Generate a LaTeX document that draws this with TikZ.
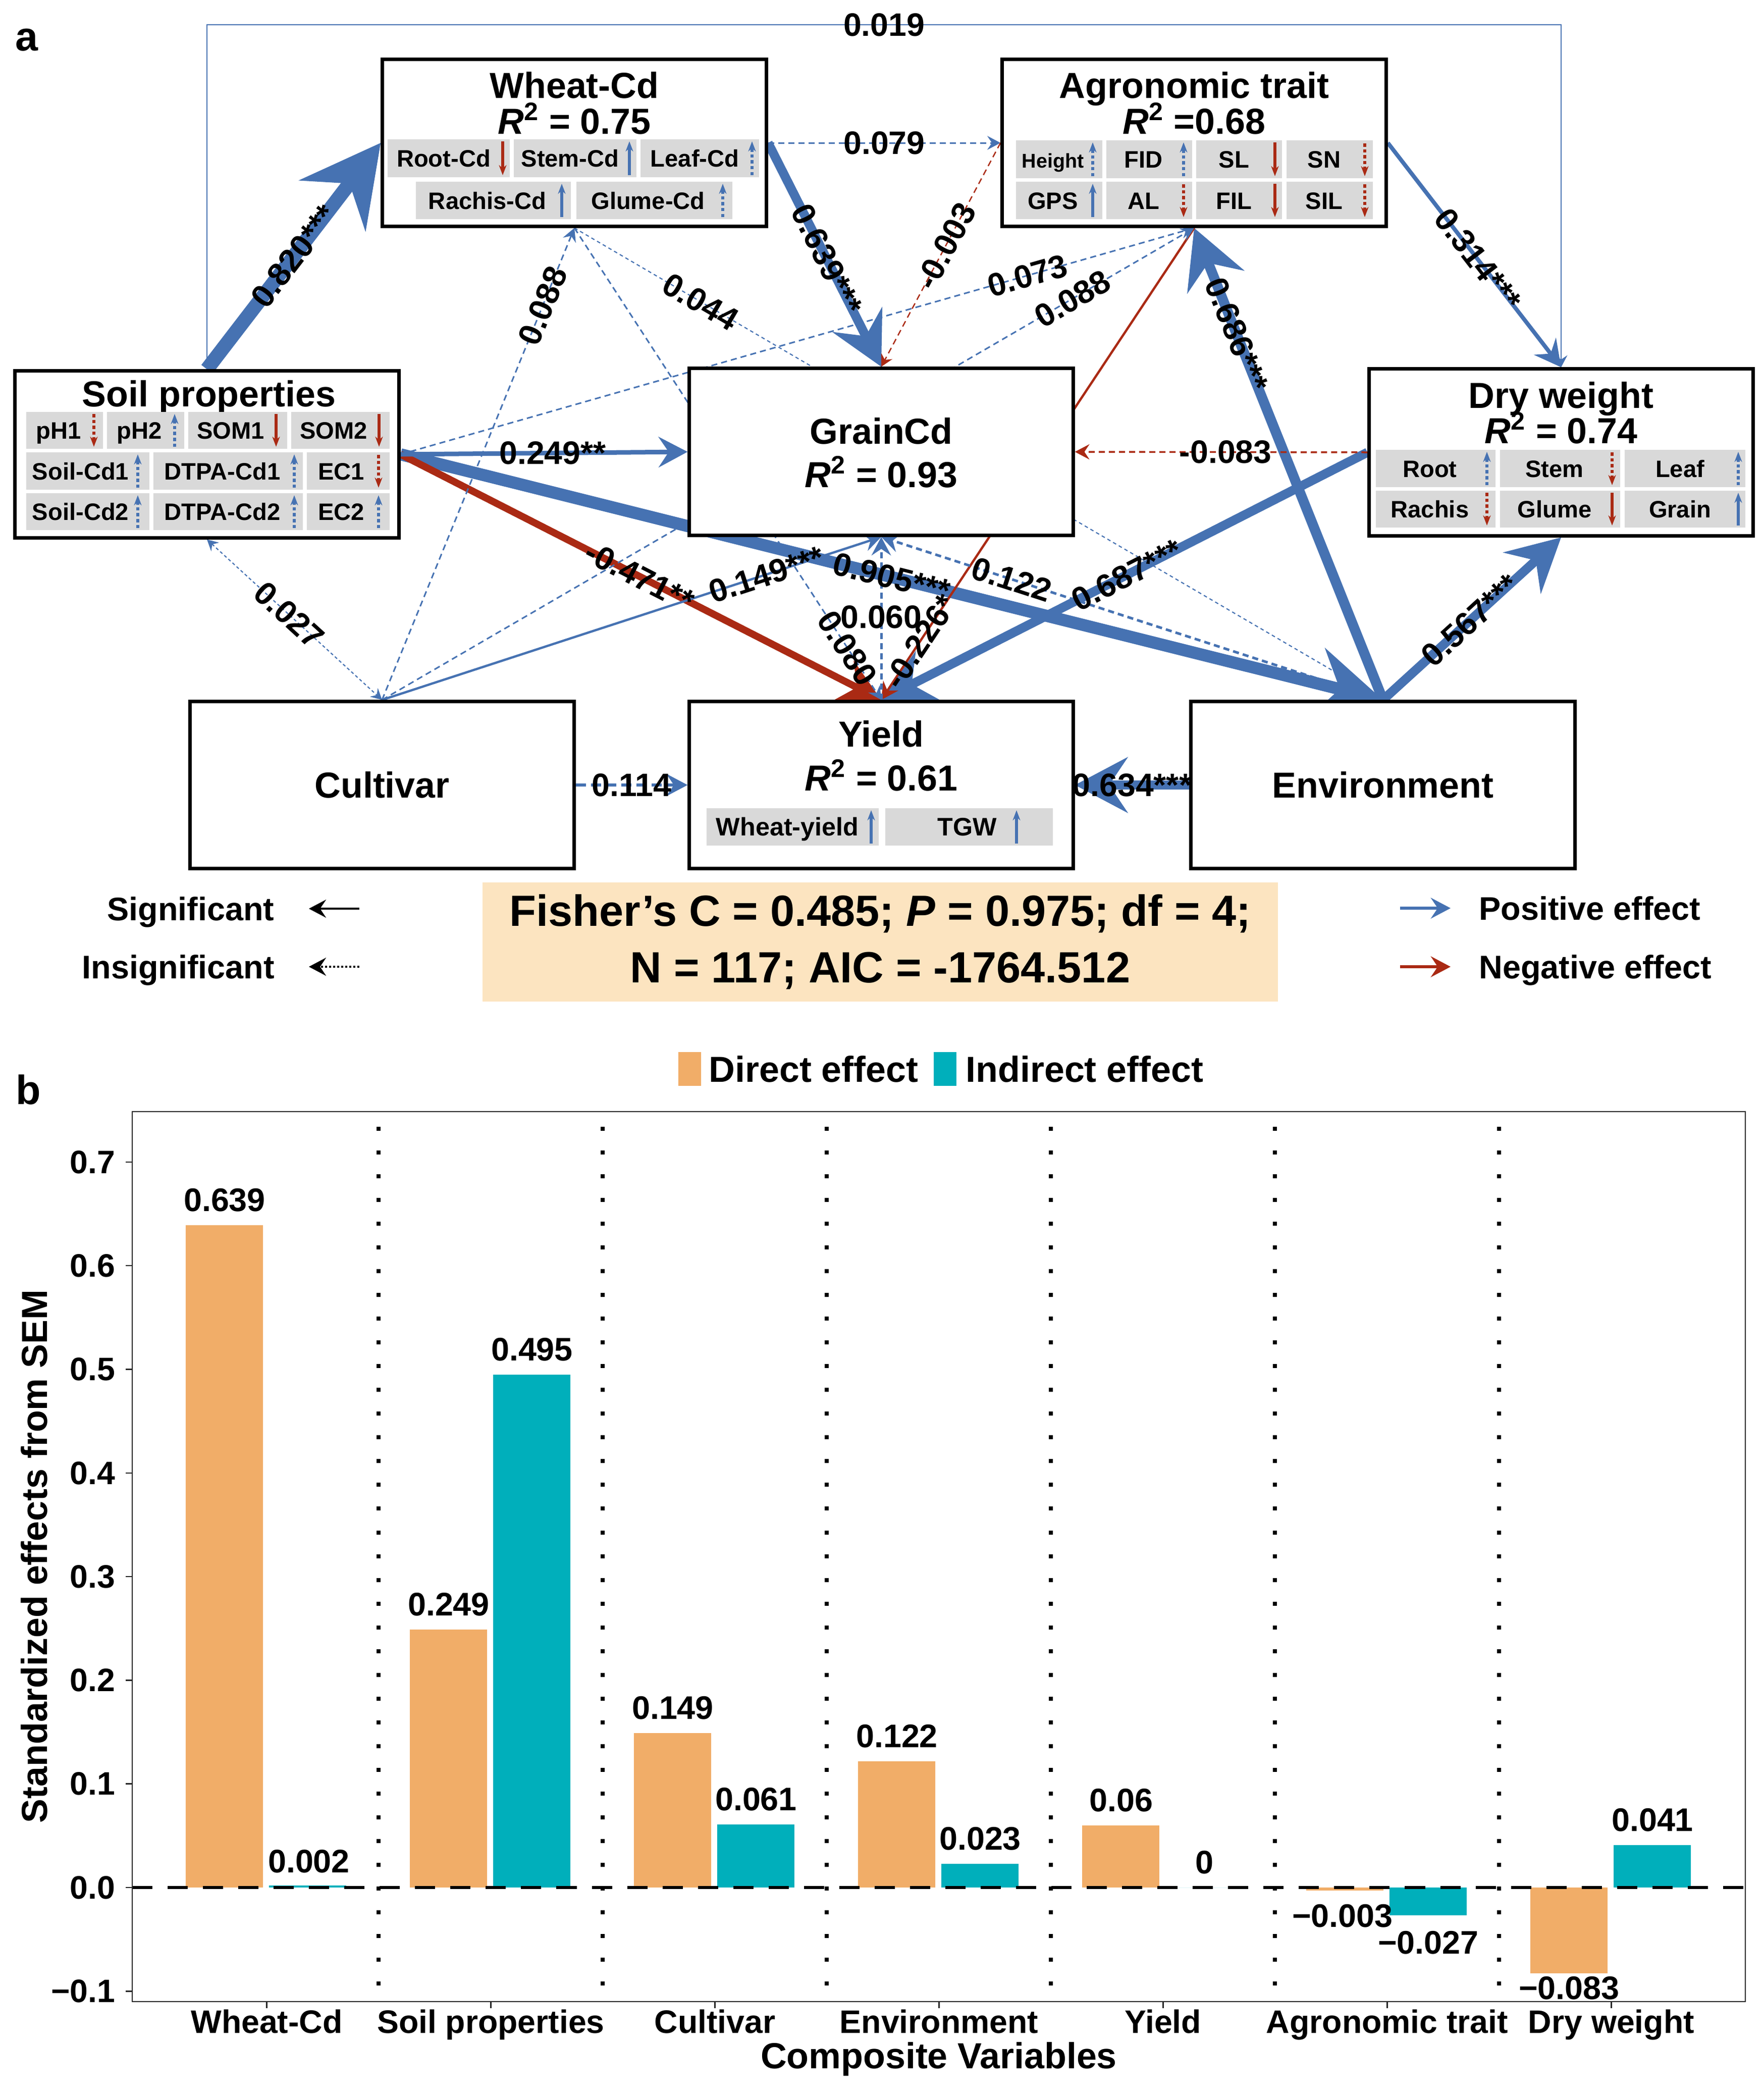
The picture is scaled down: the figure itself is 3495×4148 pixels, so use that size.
\documentclass[tikz,border=0pt]{standalone}
\usepackage{fontspec}
\setmainfont{Liberation Sans}
\usetikzlibrary{arrows.meta}
\pgfdeclarelayer{edges}
\pgfsetlayers{edges,main}

\definecolor{blueE}{RGB}{70,114,178}
\definecolor{redE}{RGB}{170,42,20}
\definecolor{cellgray}{RGB}{217,217,217}
\definecolor{peach}{RGB}{252,228,192}
\definecolor{orangeB}{RGB}{241,173,104}
\definecolor{tealB}{RGB}{0,175,187}

\newcommand{\Rsq}{\textit{R}\textsuperscript{2}}
% trait cell: name, x1, x2, y1, y2, text, arrow style, arrow offset
\newcommand{\trait}[8]{%
  \fill[cellgray] (#2,#4) rectangle (#3,#5);
  \node[celltext] (#1) at ({(#2+#3-#8)/2-3},{(#4+#5)/2+17}) {#6};
  \draw[#7] ({#3-#8},{#5-4}) -- ({#3-#8},{#4+4});
}

\tikzset{
  >={Stealth[length=3pt 5.2 0.8, width'=0pt 1.05, inset'=0pt 0.35]},
  box/.style={draw, line width=0.07cm, fill=white, minimum width=7.6cm,
    minimum height=3.3cm, inner sep=0pt, font=\fontsize{20.4}{24}\selectfont\bfseries},
  boxtitle/.style={anchor=base, inner sep=0pt, font=\fontsize{20.4}{24}\selectfont\bfseries},
  celltext/.style={anchor=base, inner sep=0pt, font=\fontsize{13.4}{16}\selectfont\bfseries},
  upb/.style={blueE, line width=0.055cm, -{Stealth[length=0.2cm, width=0.15cm]}},
  upbd/.style={upb, dash pattern=on 0.065cm off 0.05cm},
  dnr/.style={redE, line width=0.055cm, {Stealth[length=0.2cm, width=0.15cm]}-},
  dnrd/.style={dnr, dash pattern=on 0.065cm off 0.05cm},
  pe/.style={blueE, ->},
  ne/.style={redE, ->},
  ns/.style={dash pattern=on 0.12cm off 0.08cm},
  lab/.style={sloped, inner sep=0.5pt, text depth=0pt, font=\fontsize{18.3}{22}\selectfont\bfseries},
  hlab/.style={inner sep=0.5pt, text depth=0pt, font=\fontsize{18.3}{22}\selectfont\bfseries},
  legtext/.style={anchor=west, inner sep=0pt, text depth=0pt, font=\fontsize{18.4}{22}\selectfont\bfseries},
  panel/.style={inner sep=0pt, font=\fontsize{23}{26}\selectfont\bfseries},
  sep/.style={black, line width=0.08cm, dash pattern=on 0.08cm off 0.39cm},
  ticktext/.style={inner sep=0pt, font=\fontsize{18.3}{22}\selectfont\bfseries},
  bartext/.style={inner sep=0pt, font=\fontsize{18.4}{22}\selectfont\bfseries},
  axtitle/.style={inner sep=0pt, font=\fontsize{20.4}{24}\selectfont\bfseries}
}

\begin{document}
\begin{tikzpicture}[x=0.01cm, y=-0.01cm]
  \useasboundingbox (0,0) rectangle (3495,4148);

  % ---------- panel a ----------
  \node[panel] (pa) at (53,79) {a};
  \coordinate (top) at (0,49);

  \node[box] (wheat) at (1138,283) {};
  \node[box] (agro) at (2366,283) {};
  \node[box] (soil) at (410,900) {};
  \node[box] (grain) at (1746,895) {};
  \node[box] (dw) at (3093,896) {};
  \node[box] (cult) at (757,1555) {Cultivar};
  \node[box] (yield) at (1746,1555) {};
  \node[box] (env) at (2740,1555) {Environment};

  \node[boxtitle] (wheatT) at (1138,194) {Wheat-Cd};
  \node[boxtitle] (wheatR) at (1138,265) {\Rsq{} = 0.75};
  \node[boxtitle] (agroT) at (2366,194) {Agronomic trait};
  \node[boxtitle] (agroR) at (2366,265) {\Rsq{} =0.68};
  \node[boxtitle] (soilT) at (414,805) {Soil properties};
  \node[boxtitle] (grainT) at (1746,879) {GrainCd};
  \node[boxtitle] (grainR) at (1746,965) {\Rsq{} = 0.93};
  \node[boxtitle] (dwT) at (3093,808) {Dry weight};
  \node[boxtitle] (dwR) at (3093,878) {\Rsq{} = 0.74};
  \node[boxtitle] (yieldT) at (1746,1479) {Yield};
  \node[boxtitle] (yieldR) at (1746,1566) {\Rsq{} = 0.61};

  % wheat-cd cells
  \trait{rootcd}{768}{1010}{276}{351}{Root-Cd}{dnr}{14}
  \trait{stemcd}{1018}{1261}{276}{351}{Stem-Cd}{upb}{14}
  \trait{leafcd}{1269}{1504}{276}{351}{Leaf-Cd}{upbd}{14}
  \trait{rachiscd}{824}{1131}{360}{434}{Rachis-Cd}{upb}{18}
  \trait{glumecd}{1142}{1451}{360}{434}{Glume-Cd}{upbd}{19}
  % agronomic cells
  \trait{height}{2013}{2184}{278}{353}{\fontsize{11.2}{13}\selectfont Height}{upbd}{19}
  \trait{fid}{2192}{2362}{278}{353}{FID}{upbd}{17}
  \trait{sl}{2370}{2540}{278}{353}{SL}{dnr}{14}
  \trait{sn}{2549}{2720}{278}{353}{SN}{dnrd}{16}
  \trait{gps}{2013}{2184}{360}{434}{GPS}{upb}{19}
  \trait{al}{2192}{2362}{360}{434}{AL}{dnrd}{17}
  \trait{fil}{2370}{2540}{360}{434}{FIL}{dnr}{14}
  \trait{sil}{2549}{2720}{360}{434}{SIL}{dnrd}{16}
  % soil cells
  \trait{ph1}{52}{204}{816}{889}{pH1}{dnrd}{18}
  \trait{ph2}{212}{365}{816}{889}{pH2}{upbd}{19}
  \trait{som1}{373}{569}{816}{889}{SOM1}{dnr}{22}
  \trait{som2}{577}{772}{816}{889}{SOM2}{dnr}{21}
  \trait{soilcd1}{52}{296}{896}{970}{Soil-Cd1}{upbd}{23}
  \trait{dtpacd1}{304}{600}{896}{970}{DTPA-Cd1}{upbd}{17}
  \trait{ec1}{608}{772}{896}{970}{EC1}{dnrd}{22}
  \trait{soilcd2}{52}{296}{977}{1050}{Soil-Cd2}{upbd}{23}
  \trait{dtpacd2}{304}{600}{977}{1050}{DTPA-Cd2}{upbd}{17}
  \trait{ec2}{608}{772}{977}{1050}{EC2}{upbd}{22}
  % dry weight cells
  \trait{droot}{2726}{2963}{891}{965}{Root}{upbd}{17}
  \trait{dstem}{2972}{3210}{891}{965}{Stem}{dnrd}{16}
  \trait{dleaf}{3219}{3458}{891}{965}{Leaf}{upbd}{14}
  \trait{drachis}{2726}{2963}{972}{1045}{Rachis}{dnrd}{17}
  \trait{dglume}{2972}{3210}{972}{1045}{Glume}{dnr}{16}
  \trait{dgrain}{3219}{3458}{972}{1045}{Grain}{upb}{14}
  % yield cells
  \trait{wyield}{1400}{1741}{1601}{1675}{\fontsize{14.3}{17}\selectfont Wheat-yield}{upb}{15}
  \trait{tgw}{1754}{2086}{1601}{1675}{\fontsize{14.3}{17}\selectfont\hspace{0.7cm}TGW}{upb}{72}

  % connectors
  \begin{pgfonlayer}{edges}
    \draw[pe, line width=0.025cm] (soil.north) -- (soil.north |- top) -- (dw.north |- top) -- (dw.north);
    \draw[pe, line width=0.28cm] (soil.north) -- (wheat.west);
    \draw[pe, line width=0.24cm] (soil.east) -- (env.north);
    \draw[pe, line width=0.18cm] (wheat.east) -- (grain.north);
    \draw[pe, line width=0.2cm] (env.north) -- (agro.south);
    \draw[pe, line width=0.18cm] (dw.west) -- (yield.north);
    \draw[pe, line width=0.18cm] (env.north) -- (dw.south);
    \draw[pe, line width=0.18cm] (env.west) -- (yield.east);
    \draw[ne, line width=0.14cm] (soil.east) -- (yield.north);
    \draw[pe, line width=0.08cm] (agro.east) -- (dw.north);
    \draw[pe, line width=0.09cm] (soil.east) -- (grain.west);
    \draw[pe, line width=0.045cm] (cult.north) -- (grain.south);
    \draw[ne, line width=0.045cm] (agro.south) -- (yield.north);
    \draw[pe, ns, line width=0.03cm] (wheat.east) -- (agro.west);
    \draw[ne, ns, line width=0.025cm] (agro.west) -- (grain.north);
    \draw[pe, ns, line width=0.03cm] (cult.north) -- (wheat.south);
    \draw[pe, line width=0.022cm, dash pattern=on 0.07cm off 0.06cm] (wheat.south) -- (env.north);
    \draw[pe, ns, line width=0.03cm] (soil.east) -- (agro.south);
    \draw[pe, ns, line width=0.03cm] (cult.north) -- (agro.south);
    \draw[pe, ns, line width=0.05cm] (yield.north) -- (grain.south);
    \draw[pe, ns, line width=0.03cm] (wheat.south) -- (yield.north);
    \draw[pe, ns, line width=0.05cm] (env.north) -- (grain.south);
    \draw[ne, ns, line width=0.035cm] (dw.west) -- (grain.east);
    \draw[pe, line width=0.06cm, dash pattern=on 0.2cm off 0.1cm] (cult.east) -- (yield.west);
    \draw[pe, <->, line width=0.022cm, dash pattern=on 0.06cm off 0.05cm] (soil.south) -- (cult.north);
  \end{pgfonlayer}

  % connector labels
  \path (soil.north |- top) -- node[hlab] (e019) {0.019} (dw.north |- top);
  \path (soil.north) -- node[lab, pos=0.5] (e820) {0.820***} (wheat.west);
  \path (wheat.east) -- node[lab, pos=0.52] (e639) {0.639***} (grain.north);
  \path (wheat.east) -- node[hlab] (e079) {0.079} (agro.west);
  \path (agro.west) -- node[lab, pos=0.46] (e003) {-0.003} (grain.north);
  \path (agro.east) -- node[lab, pos=0.52] (e314) {0.314***} (dw.north);
  \path (cult.north) -- node[lab, pos=0.835] (e088a) {0.088} (wheat.south);
  \path (wheat.south) -- node[lab, pos=0.156] (e044) {0.044} (env.north);
  \path (soil.east) -- node[lab, pos=0.79] (e073) {0.073} (agro.south);
  \path (cult.north) -- node[lab, pos=0.85] (e088b) {0.088} (agro.south);
  \path (soil.east) -- node[hlab, pos=0.53] (e249) {0.249**} (grain.west);
  \path (soil.east) -- node[lab, pos=0.5] (e905) {0.905***} (env.north);
  \path (soil.east) -- node[lab, pos=0.497] (e471) {-0.471**} (yield.north);
  \path (cult.north) -- node[lab, pos=0.77] (e149) {0.149***} (grain.south);
  \path (yield.north) -- node[hlab, pos=0.51] (e060) {0.060} (grain.south);
  \path (wheat.south) -- node[lab, pos=0.89] (e080) {0.080} (yield.north);
  \path (agro.south) -- node[lab, pos=0.876] (e226) {-0.226*} (yield.north);
  \path (env.north) -- node[lab, pos=0.74] (e122) {0.122} (grain.south);
  \path (dw.west) -- node[lab, pos=0.495] (e687) {0.687***} (yield.north);
  \path (dw.west) -- node[hlab, pos=0.485] (e083) {-0.083} (grain.east);
  \path (env.north) -- node[lab, pos=0.774] (e686) {0.686***} (agro.south);
  \path (env.north) -- node[lab, pos=0.49] (e567) {0.567***} (dw.south);
  \path (env.west) -- node[hlab] (e634) {0.634***} (yield.east);
  \path (cult.east) -- node[hlab] (e114) {0.114} (yield.west);
  \path (soil.south) -- node[lab, pos=0.47] (e027) {0.027} (cult.north);

  % legend and fit
  \node[legtext] (lsig) at (212,1800) {Significant};
  \node[legtext] (lins) at (162,1915) {Insignificant};
  \coordinate (sigA) at (712,1800);
  \coordinate (sigB) at (612,1800);
  \coordinate (insA) at (712,1915);
  \coordinate (insB) at (612,1915);
  \draw[black, line width=0.045cm, ->] (sigA) -- (sigB);
  \draw[black, line width=0.045cm, dash pattern=on 0.04cm off 0.04cm, ->] (insA) -- (insB);
  \coordinate (posA) at (2774,1799);
  \coordinate (posB) at (2874,1799);
  \coordinate (negA) at (2774,1915);
  \coordinate (negB) at (2874,1915);
  \draw[blueE, line width=0.055cm, ->] (posA) -- (posB);
  \draw[redE, line width=0.055cm, ->] (negA) -- (negB);
  \node[legtext] (lpos) at (2930,1799) {Positive effect};
  \node[legtext] (lneg) at (2930,1915) {Negative effect};
  \node[fill=peach, minimum width=15.76cm, minimum height=2.36cm, align=center,
    font=\fontsize{24.6}{31.9}\selectfont\bfseries] (fisher) at (1744,1866)
    {Fisher’s C = 0.485; \textit{P} = 0.975; df = 4;\\N = 117; AIC = -1764.512};

  % ---------- panel b ----------
  \node[panel] (pb) at (56,2159) {b};
  \fill[orangeB] (1344,2084) rectangle (1389,2151);
  \node[legtext, font=\fontsize{20.4}{24}\selectfont\bfseries] (ldir) at (1404,2117) {Direct effect};
  \fill[tealB] (1850,2084) rectangle (1895,2151);
  \node[legtext, font=\fontsize{20.4}{24}\selectfont\bfseries] (lind) at (1913,2117) {Indirect effect};

  \foreach \i in {1,...,6}
    \draw[sep] ({262+444*\i+44.4},2232) -- ({262+444*\i+44.4},3962);
  \foreach \i/\d/\n in {1/0.639/0.002, 2/0.249/0.495, 3/0.149/0.061, 4/0.122/0.023,
      5/0.06/0, 6/-0.003/-0.027, 7/-0.083/0.041}{
    \fill[orangeB] ({262+(\i-0.4)*444-160},3739) rectangle ({262+(\i-0.4)*444-7},{3739-2053*\d});
    \fill[tealB] ({262+(\i-0.4)*444+5},3739) rectangle ({262+(\i-0.4)*444+158},{3739-2053*\n});
  }
  \draw[black, line width=0.06cm, dash pattern=on 0.4cm off 0.3cm] (262,3739) -- (3458,3739);
  \draw[black!85, line width=0.025cm] (262,2202) rectangle (3458,3965);

  \node[bartext] (v1) at (445,2377) {0.639};
  \node[bartext] (v2) at (612,3687) {0.002};
  \node[bartext] (v3) at (889,3178) {0.249};
  \node[bartext] (v4) at (1054,2673) {0.495};
  \node[bartext] (v5) at (1333,3383) {0.149};
  \node[bartext] (v6) at (1498,3564) {0.061};
  \node[bartext] (v7) at (1777,3439) {0.122};
  \node[bartext] (v8) at (1942,3642) {0.023};
  \node[bartext] (v9) at (2221,3566) {0.06};
  \node[bartext] (v10) at (2386,3689) {0};
  \node[bartext] (v11) at (2660,3795) {−0.003};
  \node[bartext] (v12) at (2830,3848) {−0.027};
  \node[bartext] (v13) at (3109,3938) {−0.083};
  \node[bartext] (v14) at (3274,3605) {0.041};

  \foreach \v/\t [count=\k] in {-0.1/−0.1, 0/0.0, 0.1/0.1, 0.2/0.2, 0.3/0.3, 0.4/0.4, 0.5/0.5, 0.6/0.6, 0.7/0.7}{
    \draw[black!85, line width=0.025cm] (249,{3739-2053*\v}) -- (262,{3739-2053*\v});
    \node[ticktext, anchor=east] (yt\k) at (229,{3739-2053*\v}) {\t};
  }
  \foreach \i/\t in {1/Wheat-Cd, 2/Soil properties, 3/Cultivar, 4/Environment,
      5/Yield, 6/Agronomic trait, 7/Dry weight}{
    \draw[black!85, line width=0.025cm] ({262+(\i-0.4)*444},3965) -- ({262+(\i-0.4)*444},3978);
    \node[ticktext, anchor=base] (xt\i) at ({262+(\i-0.4)*444},4027) {\t};
  }
  \node[axtitle, rotate=90] (ytitle) at (68,3083) {Standardized effects from SEM};
  \node[axtitle, anchor=base] (xtitle) at (1860,4097) {Composite Variables};
\end{tikzpicture}
\end{document}
